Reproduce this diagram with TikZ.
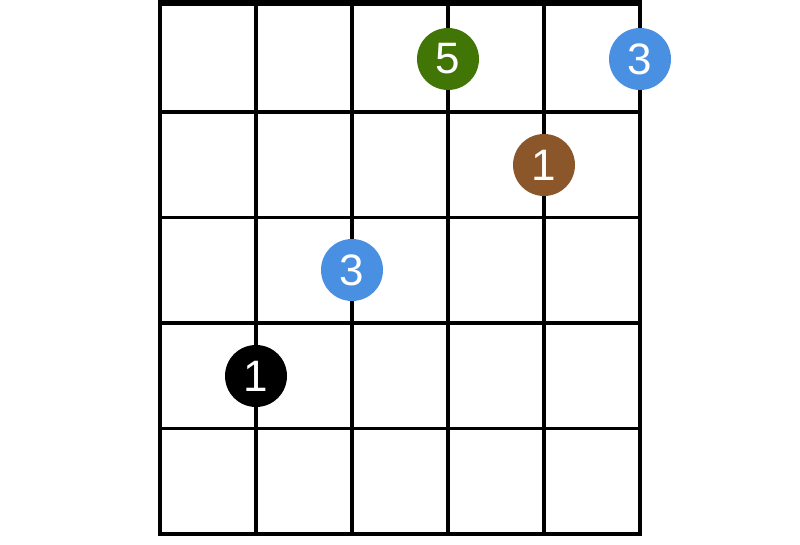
\documentclass[tikz,border=0pt]{standalone}
\usepackage{fontspec}
\setmainfont{Liberation Sans}
\usetikzlibrary{positioning}
\definecolor{fingergreen}{HTML}{417505}
\definecolor{fingerblue}{HTML}{4A90E2}
\definecolor{fingerbrown}{HTML}{8B572A}
\tikzset{
  fretline/.style={line width=3.6pt, draw=black, line cap=rect},
  stringline/.style={line width=3.8pt, draw=black, line cap=rect},
  nutbar/.style={fill=black},
  finger/.style={circle, minimum size=62pt, inner sep=0pt, text=white,
    font=\fontsize{44}{44}\selectfont}
}
\begin{document}
\begin{tikzpicture}[x=1pt,y=-1pt]
  \useasboundingbox (0,0) rectangle (800,545);
  % strings
  \foreach \s in {0,...,5}
    \draw[stringline] (160+96*\s,0) -- (160+96*\s,534);
  % frets
  \foreach \f in {1,...,5}
    \draw[fretline] (160,6.5+105.5*\f) -- (640,6.5+105.5*\f);
  % nut
  \fill[nutbar] (158,0) rectangle (642,6.5);

  \node[finger, fill=fingergreen] (g5) at (448,59) {5};
  \node[finger, fill=fingerblue]  (b3) at (640,59) {3};
  \node[finger, fill=fingerbrown] (r1) at (544,165) {1};
  \node[finger, fill=fingerblue]  (c3) at (352,270) {3};
  \node[finger, fill=black]       (k1) at (256,376) {1};
\end{tikzpicture}
\end{document}
